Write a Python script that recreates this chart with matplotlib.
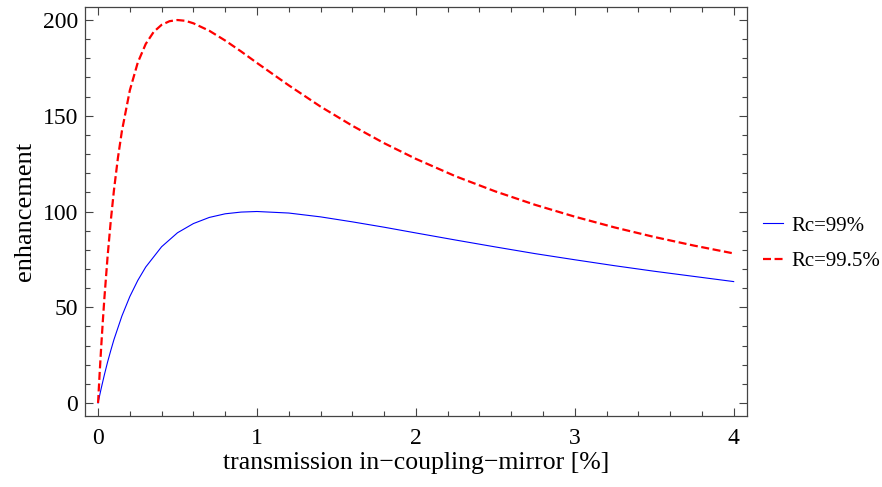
import matplotlib
matplotlib.use("Agg")
import matplotlib.pyplot as plt
from matplotlib.ticker import MultipleLocator

# transmission [%] and enhancement
x_99 = [0, 0.01, 0.02, 0.04, 0.06, 0.08, 0.1, 0.15, 0.2, 0.25, 0.3, 0.4, 0.5, 0.6, 0.7, 0.8, 0.9, 1.0,
        1.2, 1.4, 1.6, 1.8, 2.0, 2.25, 2.5, 2.75, 3.0, 3.25, 3.5, 3.75, 4.0]
y_99 = [0, 3.9, 7.7, 14.8, 21.4, 27.4, 33.1, 45.4, 55.6, 64.0, 71.0, 81.6, 88.9, 93.7, 96.9, 98.8, 99.7, 100.0,
        99.2, 97.2, 94.6, 91.8, 88.8, 85.1, 81.5, 78.0, 74.8, 71.7, 68.8, 66.1, 63.4]

x_995 = [0, 0.005, 0.01, 0.02, 0.03, 0.04, 0.06, 0.08, 0.1, 0.125, 0.15, 0.2, 0.25, 0.3, 0.35, 0.4, 0.45, 0.5,
         0.55, 0.6, 0.7, 0.8, 0.9, 1.0, 1.2, 1.4, 1.6, 1.8, 2.0, 2.25, 2.5, 2.75, 3.0, 3.25, 3.5, 3.75, 4.0]
y_995 = [0, 7.8, 15.4, 29.6, 42.7, 54.9, 76.5, 95.1, 111.1, 128.0, 142.0, 163.3, 177.8, 187.5, 193.8, 197.5, 199.4, 200.0,
         199.6, 198.3, 194.4, 189.3, 183.6, 177.6, 165.9, 154.8, 144.8, 135.7, 127.5, 118.4, 110.5, 103.5, 97.3, 91.7, 86.7, 82.2, 78.1]

labels = ["Rc=99%", "Rc=99.5%"]

plt.rcParams["font.family"] = ["Liberation Serif", "DejaVu Serif"]

fig = plt.figure(figsize=(8.82, 4.87), dpi=100)
ax = fig.add_axes([0.0964, 0.1458, 0.7502, 0.8398])

ax.plot(x_99, y_99, color="#0000ff", lw=0.8, label=labels[0])
ax.plot(x_995, y_995, color="#ff0000", lw=1.6, dashes=(3.6, 1.6), label=labels[1])

ax.set_xlim(-0.082, 4.082)
ax.set_ylim(-6.8, 206.8)

ax.xaxis.set_major_locator(MultipleLocator(1))
ax.xaxis.set_minor_locator(MultipleLocator(0.2))
ax.yaxis.set_major_locator(MultipleLocator(50))
ax.yaxis.set_minor_locator(MultipleLocator(10))
ax.tick_params(which="both", direction="in", top=True, right=True, colors="#444444",
               labelcolor="black", labelsize=17, width=0.8)
ax.tick_params(which="major", length=6)
ax.tick_params(which="minor", length=3.5)
ax.tick_params(axis="x", which="major", pad=9)
ax.tick_params(axis="y", which="major", pad=5)
for s in ax.spines.values():
    s.set_color("#444444")
    s.set_linewidth(0.9)

ax.set_xlabel("transmission in\u2212coupling\u2212mirror [%]", fontsize=18.5, labelpad=2)
ax.set_ylabel("enhancement", fontsize=19, labelpad=5)

fig.legend(loc="center left", bbox_to_anchor=(0.865, 0.5), frameon=False, fontsize=15,
           borderpad=0, borderaxespad=0, handlelength=0.95, handletextpad=0.4, labelspacing=0.75)

fig.savefig("out.png", dpi=100)
